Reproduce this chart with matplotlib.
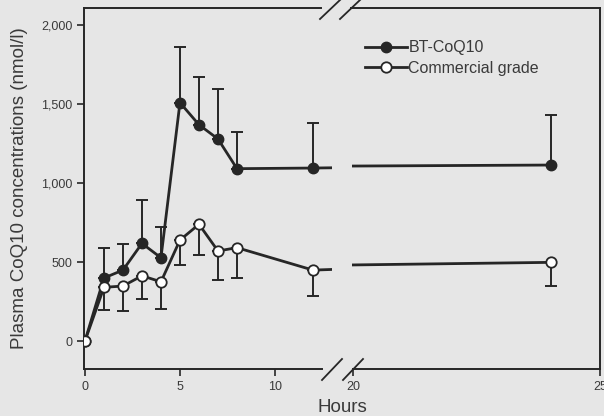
import numpy as np
import matplotlib.pyplot as plt
from matplotlib.lines import Line2D

plt.rcParams['font.family'] = ['Liberation Sans', 'DejaVu Sans']

hours = [0, 1, 2, 3, 4, 5, 6, 7, 8, 12, 24]
bt_mean = [0, 399, 449, 618, 527, 1509, 1369, 1279, 1091, 1095, 1114]
bt_sd = [0, 190, 167, 272, 196, 354, 304, 318, 234, 287, 316]
com_mean = [0, 340, 348, 413, 375, 639, 739, 570, 591, 449, 498]
com_sd = [0, 144, 156, 145, 171, 156, 195, 182, 190, 162, 150]

bg = '#e6e6e6'
ink = '#262626'
txt = '#3a3a3a'

W, H = 604, 416
fig = plt.figure(figsize=(W / 100, H / 100), dpi=100, facecolor=bg)

def fx(px):
    return px / W

def fy(py):
    return 1 - py / H

bot, top = fy(369), fy(8)
ax1 = fig.add_axes([fx(84), bot, fx(332) - fx(84), top - bot], facecolor=bg)
ax2 = fig.add_axes([fx(352), bot, fx(600) - fx(352), top - bot], facecolor=bg)

for ax in (ax1, ax2):
    ax.errorbar(hours, bt_mean, yerr=[np.zeros(len(bt_sd)), bt_sd], fmt='none',
                ecolor=ink, elinewidth=1.4, capsize=4, capthick=1.4, zorder=1)
    ax.errorbar(hours, com_mean, yerr=[com_sd, np.zeros(len(com_sd))], fmt='none',
                ecolor=ink, elinewidth=1.4, capsize=4, capthick=1.4, zorder=1)
    ax.plot(hours, bt_mean, '-o', color=ink, lw=2, ms=7.5, mfc=ink, mec=ink, zorder=3)
    ax.plot(hours, com_mean, '-o', color=ink, lw=2, ms=7.5, mfc='white', mec=ink,
            mew=1.3, zorder=4)
    ax.set_ylim(-177, 2108)
    for s in ax.spines.values():
        s.set_color(ink)
        s.set_linewidth(1.4)
    ax.tick_params(colors=ink, labelcolor=txt, labelsize=9, width=1.2, length=5)

ax1.set_xlim(-0.05, 13.0)
ax2.set_xlim(19.98, 25)
ax1.set_xticks([0, 5, 10])
ax2.set_xticks([20, 25])
ax1.set_yticks([0, 500, 1000, 1500, 2000])
ax1.set_yticklabels(['0', '500', '1,000', '1,500', '2,000'])
ax1.spines['right'].set_visible(False)
ax2.spines['left'].set_visible(False)
ax2.tick_params(axis='y', left=False, labelleft=False)
ax1.spines['bottom'].set_bounds(-0.05, 12.5)
ax1.spines['top'].set_bounds(-0.05, 12.4)
ax2.spines['bottom'].set_bounds(20.0, 25)
ax2.spines['top'].set_bounds(19.95, 25)

# break marks
for x0 in (322, 343):
    fig.add_artist(Line2D([fx(x0), fx(x0 + 20)], [fy(380), fy(359)], color=ink, lw=1.3))
for x0 in (320, 340):
    fig.add_artist(Line2D([fx(x0), fx(x0 + 20)], [fy(19), fy(0)], color=ink, lw=1.3))

ax1.set_ylabel('Plasma CoQ10 concentrations (nmol/l)', fontsize=13.5, color=txt, labelpad=9)
fig.text(fx(342), fy(408), 'Hours', fontsize=13.5, color=txt, ha='center', va='center')

handles = [
    Line2D([], [], color=ink, lw=2, marker='o', ms=7.5, mfc=ink, mec=ink),
    Line2D([], [], color=ink, lw=2, marker='o', ms=7.5, mfc='white', mec=ink, mew=1.3),
]
fig.legend(handles, ['BT-CoQ10', 'Commercial grade'], loc='upper left',
           bbox_to_anchor=(fx(351), fy(26)), frameon=False, fontsize=11.5,
           handlelength=2.6, handletextpad=0.1, labelspacing=0.35,
           labelcolor=txt)

fig.savefig('out.png', dpi=100, facecolor=bg)
